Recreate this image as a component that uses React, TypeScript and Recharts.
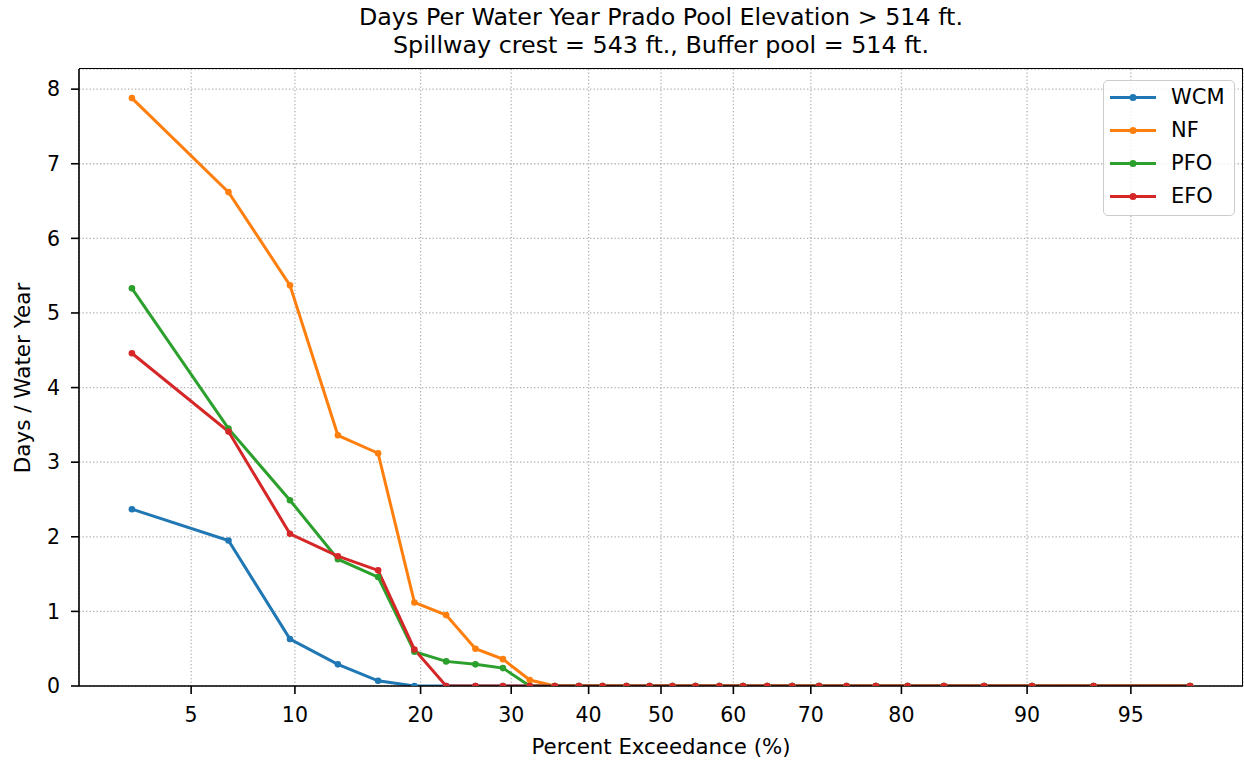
import { CartesianGrid, Line, LineChart, XAxis, YAxis } from 'recharts';

// percent exceedance of each plotted year (30 years)
const exceedance = [
  3.2, 6.5, 9.7, 12.9, 16.1, 19.4, 22.6, 25.8, 29.0, 32.3, 35.5, 38.7, 41.9, 45.2, 48.4,
  51.6, 54.8, 58.1, 61.3, 64.5, 67.7, 71.0, 74.2, 77.4, 80.6, 83.9, 87.1, 90.3, 93.5, 96.8,
];

const wcm = [2.37, 1.95, 0.63, 0.29, 0.07, 0, 0, 0, 0, 0, 0, 0, 0, 0, 0, 0, 0, 0, 0, 0, 0, 0, 0, 0, 0, 0, 0, 0, 0, 0];
const nf = [7.88, 6.62, 5.37, 3.36, 3.12, 1.12, 0.95, 0.5, 0.36, 0.08, 0, 0, 0, 0, 0, 0, 0, 0, 0, 0, 0, 0, 0, 0, 0, 0, 0, 0, 0, 0];
const pfo = [5.33, 3.45, 2.49, 1.7, 1.46, 0.46, 0.33, 0.29, 0.24, 0, 0, 0, 0, 0, 0, 0, 0, 0, 0, 0, 0, 0, 0, 0, 0, 0, 0, 0, 0, 0];
const efo = [4.46, 3.41, 2.04, 1.74, 1.55, 0.49, 0, 0, 0, 0, 0, 0, 0, 0, 0, 0, 0, 0, 0, 0, 0, 0, 0, 0, 0, 0, 0, 0, 0, 0];

const xTickPercents = [5, 10, 20, 30, 40, 50, 60, 70, 80, 90, 95];
const yTicks = [0, 1, 2, 3, 4, 5, 6, 7, 8];

const SERIES = [
  { name: 'WCM', color: '#1f77b4', values: wcm },
  { name: 'NF', color: '#ff7f0e', values: nf },
  { name: 'PFO', color: '#2ca02c', values: pfo },
  { name: 'EFO', color: '#d62728', values: efo },
];

const FONT = '"DejaVu Sans", sans-serif';

// inverse normal CDF (Acklam), used for the probability x axis
function probit(p: number): number {
  const a = [-39.69683028665376, 220.9460984245205, -275.9285104469687, 138.357751867269, -30.66479806614716, 2.506628277459239];
  const b = [-54.47609879822406, 161.5858368580409, -155.6989798598866, 66.80131188771972, -13.28068155288572];
  const c = [-0.007784894002430293, -0.3223964580411365, -2.400758277161838, -2.549732539343734, 4.374664141464968, 2.938163982698783];
  const d = [0.007784695709041462, 0.3224671290700398, 2.445134137142996, 3.754408661907416];
  const pl = 0.02425;
  if (p < pl) {
    const q = Math.sqrt(-2 * Math.log(p));
    return (((((c[0] * q + c[1]) * q + c[2]) * q + c[3]) * q + c[4]) * q + c[5]) / ((((d[0] * q + d[1]) * q + d[2]) * q + d[3]) * q + 1);
  }
  if (p > 1 - pl) {
    const q = Math.sqrt(-2 * Math.log(1 - p));
    return -(((((c[0] * q + c[1]) * q + c[2]) * q + c[3]) * q + c[4]) * q + c[5]) / ((((d[0] * q + d[1]) * q + d[2]) * q + d[3]) * q + 1);
  }
  const q = p - 0.5;
  const r = q * q;
  return ((((((a[0] * r + a[1]) * r + a[2]) * r + a[3]) * r + a[4]) * r + a[5]) * q) / (((((b[0] * r + b[1]) * r + b[2]) * r + b[3]) * r + b[4]) * r + 1);
}

const data = exceedance.map((p, i) => {
  const row: Record<string, number> = { z: probit(p / 100) };
  SERIES.forEach((s) => {
    row[s.name] = s.values[i];
  });
  return row;
});

const xTicks = xTickPercents.map((p) => probit(p / 100));
const zMin = probit(exceedance[0] / 100);
const zMax = probit(exceedance[exceedance.length - 1] / 100);
const pad = (zMax - zMin) * 0.05;

function formatX(v: number) {
  const idx = xTicks.findIndex((t) => Math.abs(t - v) < 1e-9);
  return idx >= 0 ? String(xTickPercents[idx]) : '';
}

const tickStyle = { fill: '#000', fontSize: 20.5, fontFamily: FONT };

export default function App() {
  return (
    <div style={{ position: 'absolute', left: 0, top: 0, width: 1244, height: 761, background: '#fff', fontFamily: FONT }}>
      <div style={{ position: 'absolute', left: 0, width: 1322, top: 3, textAlign: 'center', fontSize: 23.8, lineHeight: '28px', color: '#000' }}>
        Days Per Water Year Prado Pool Elevation &gt; 514 ft.
        <br />
        Spillway crest = 543 ft., Buffer pool = 514 ft.
      </div>

      <LineChart width={1244} height={761} data={data} margin={{ top: 69, right: 1, bottom: 0, left: 0 }}>
        <CartesianGrid stroke="#b0b0b0" strokeDasharray="1.3 2.2" strokeWidth={1.3} />
        <XAxis
          dataKey="z"
          type="number"
          domain={[zMin - pad, zMax + pad]}
          ticks={xTicks}
          tickFormatter={formatX}
          interval={0}
          height={75}
          tick={tickStyle}
          tickSize={8}
          tickMargin={13}
          axisLine={{ stroke: '#000', strokeWidth: 1.6 }}
          tickLine={{ stroke: '#000', strokeWidth: 1.6 }}
          allowDataOverflow
        />
        <YAxis
          type="number"
          domain={[0, 8.27]}
          ticks={yTicks}
          interval={0}
          width={79}
          tick={tickStyle}
          tickSize={8}
          tickMargin={11}
          axisLine={{ stroke: '#000', strokeWidth: 1.6 }}
          tickLine={{ stroke: '#000', strokeWidth: 1.6 }}
          allowDataOverflow
        />
        {SERIES.map((s) => (
          <Line
            key={s.name}
            type="linear"
            dataKey={s.name}
            stroke={s.color}
            strokeWidth={3}
            dot={{ r: 3.3, fill: s.color, stroke: s.color, strokeWidth: 0 }}
            activeDot={false}
            isAnimationActive={false}
          />
        ))}
      </LineChart>

      {/* top and right spines */}
      <div style={{ position: 'absolute', left: 79, top: 68, width: 1164, height: 618, borderTop: '1.6px solid #000', borderRight: '1.6px solid #000', boxSizing: 'border-box', pointerEvents: 'none' }} />

      <div style={{ position: 'absolute', left: 0, width: 1322, top: 734, textAlign: 'center', fontSize: 21.3, color: '#000' }}>
        Percent Exceedance (%)
      </div>
      <div
        style={{
          position: 'absolute',
          left: 22,
          top: 378,
          transform: 'translate(-50%, -50%) rotate(-90deg)',
          fontSize: 21.5,
          whiteSpace: 'nowrap',
          color: '#000',
        }}
      >
        Days / Water Year
      </div>

      <div
        style={{
          position: 'absolute',
          left: 1103,
          top: 80,
          width: 132,
          height: 136,
          boxSizing: 'border-box',
          border: '1.5px solid #cccccc',
          borderRadius: 5,
          background: 'rgba(255,255,255,0.8)',
        }}
      >
        {SERIES.map((s, i) => (
          <div key={s.name} style={{ position: 'absolute', left: 0, top: i * 33, height: 33, width: 130 }}>
            <svg width={60} height={33} style={{ position: 'absolute', left: 0, top: 0 }}>
              <line x1={6} x2={52} y1={16.5} y2={16.5} stroke={s.color} strokeWidth={3} />
              <circle cx={29} cy={16.5} r={3.5} fill={s.color} />
            </svg>
            <span style={{ position: 'absolute', left: 67, top: 2, fontSize: 21, lineHeight: '28px', color: '#000' }}>{s.name}</span>
          </div>
        ))}
      </div>
    </div>
  );
}
